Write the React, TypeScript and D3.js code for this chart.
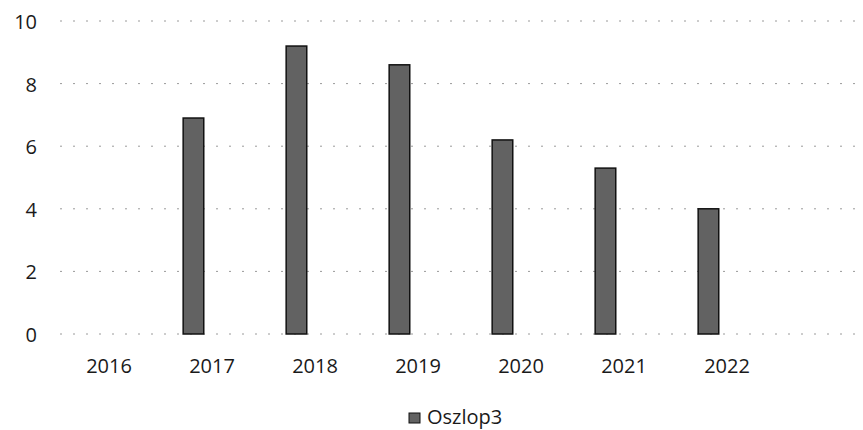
import React, { useRef, useEffect } from "react";
import { select, scaleLinear, scaleBand } from "d3";

const years = ["2016", "2017", "2018", "2019", "2020", "2021", "2022", ""];
const values = [0, 6.9, 9.2, 8.6, 6.2, 5.3, 4.0, null];
const yTicks = [0, 2, 4, 6, 8, 10];
const seriesName = "Oszlop3";

const width = 863;
const height = 430;
const font = "'Open Sans', 'Liberation Sans', sans-serif";

function App() {
  const svgRef = useRef<SVGSVGElement>(null);

  useEffect(() => {
    const svg = select(svgRef.current);
    svg.selectAll("*").remove();

    // scales
    const xScale = scaleBand()
      .domain(years)
      .range([57.5, 57.5 + 103 * years.length]);

    const yScale = scaleLinear().domain([0, 10]).range([334, 21]);

    // faint dotted gridlines
    svg
      .selectAll(".grid")
      .data(yTicks)
      .join("line")
      .attr("class", "grid")
      .attr("x1", 60)
      .attr("x2", 860)
      .attr("y1", (d) => yScale(d))
      .attr("y2", (d) => yScale(d))
      .attr("stroke", "#9a9a9a")
      .attr("stroke-width", 1)
      .attr("stroke-dasharray", "2 11");

    // y tick labels
    svg
      .selectAll(".ylabel")
      .data(yTicks)
      .join("text")
      .attr("class", "ylabel")
      .attr("x", 37)
      .attr("y", (d) => yScale(d) + 8)
      .attr("text-anchor", "end")
      .attr("font-family", font)
      .attr("font-size", 20)
      .attr("fill", "#1a1a1a")
      .text((d) => d);

    // x labels
    svg
      .selectAll(".xlabel")
      .data(years.filter((y) => y !== ""))
      .join("text")
      .attr("class", "xlabel")
      .attr("x", (d) => xScale(d)! + xScale.bandwidth() / 2)
      .attr("y", 373)
      .attr("text-anchor", "middle")
      .attr("font-family", font)
      .attr("font-size", 20)
      .attr("fill", "#1a1a1a")
      .text((d) => d);

    // bars, sit a bit left of the category centre
    const bars = years
      .map((y, i) => ({ year: y, value: values[i] }))
      .filter((d) => d.value !== null && d.value > 0);

    svg
      .selectAll(".bar")
      .data(bars)
      .join("rect")
      .attr("class", "bar")
      .attr("x", (d) => xScale(d.year)! + xScale.bandwidth() * 0.22)
      .attr("width", xScale.bandwidth() * 0.2)
      .attr("y", (d) => yScale(d.value as number))
      .attr("height", (d) => yScale(0) - yScale(d.value as number))
      .attr("fill", "#626262")
      .attr("stroke", "#111")
      .attr("stroke-width", 1.5);

    // legend
    svg
      .append("rect")
      .attr("x", 409)
      .attr("y", 413)
      .attr("width", 11)
      .attr("height", 10)
      .attr("fill", "#626262")
      .attr("stroke", "#111")
      .attr("stroke-width", 1);

    svg
      .append("text")
      .attr("x", 427)
      .attr("y", 424)
      .attr("font-family", font)
      .attr("font-size", 20)
      .attr("fill", "#1a1a1a")
      .text(seriesName);
  }, []);

  return (
    <svg
      ref={svgRef}
      width={width}
      height={height}
      style={{ position: "absolute", left: 0, top: 0, background: "#fff" }}
    />
  );
}

export default App;
